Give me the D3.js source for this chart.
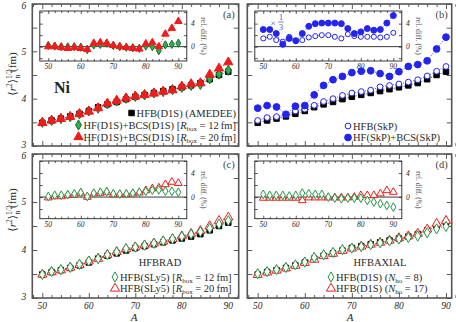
<!DOCTYPE html>
<html>
<head>
<meta charset="utf-8">
<script src="https://cdnjs.cloudflare.com/ajax/libs/d3/7.8.5/d3.min.js"></script>
<style>
body { margin:0; background:#fff; }
svg { font-family:"Liberation Serif","DejaVu Serif",serif; }
</style>
</head>
<body>
<div id="chart"></div>
<script>
// mass numbers of the Ni chain
var A = [50,52,54,56,58,60,62,64,66,68,70,72,74,76,78,80,82,84,86,88,90];

// (a) D1S
var hfbD1S  = [3.49,3.54,3.58,3.625,3.68,3.74,3.82,3.88,3.93,3.99,4.04,4.08,4.12,4.16,4.20,4.24,4.28,4.33,4.41,4.50,4.57];
var hfD1S12 = [3.50,3.54,3.58,3.62,3.68,3.74,3.80,3.89,3.95,4.01,4.05,4.08,4.12,4.15,4.19,4.24,4.28,4.30,4.42,4.52,4.60];
var hfD1S20 = [3.49,3.54,3.574,3.614,3.674,3.729,3.80,3.90,3.96,4.01,4.05,4.08,4.11,4.15,4.18,4.26,4.31,4.33,4.51,4.64,4.77];
var relD1S12 = [0.2,0.1,0,-0.05,0,-0.1,-0.5,0.3,0.4,0.6,0.2,0,-0.1,-0.2,-0.3,0.1,0,-0.7,0.3,0.4,0.6];
var relD1S20 = [0,0,-0.17,-0.3,-0.17,-0.3,-0.5,0.6,0.7,0.6,0.2,0,-0.15,-0.3,-0.4,0.5,0.7,0,2.2,3.2,4.4];

// (b) SkP
var hfbSkP = [3.54,3.60,3.62,3.656,3.74,3.78,3.86,3.94,4.00,4.07,4.12,4.15,4.18,4.25,4.28,4.31,4.35,4.40,4.48,4.58,4.68];
var hfSkP  = [3.80,3.855,3.825,3.67,3.84,3.855,4.08,4.28,4.40,4.47,4.55,4.58,4.59,4.53,4.47,4.57,4.68,4.72,4.80,5.05,5.30];
var relHfbSkP = [1.43,1.71,1.14,0.86,1.71,1.03,1.14,1.6,1.83,2.0,2.0,1.71,1.43,2.17,1.83,1.71,1.71,1.71,1.6,1.71,2.4];
var relHfSkP3 = [2.97,2.97,2.28,0.4,1.43,1.03,2.28,3.54,4.0,4.1,4.1,4.1,4.0,3.14,2.28,2.57,3.14,2.85,2.97,4.1,5.4];

// (c) HFBRAD SLy5
var slyR12 = [3.49,3.55,3.59,3.64,3.70,3.77,3.82,3.90,3.96,4.03,4.06,4.10,4.14,4.19,4.23,4.28,4.33,4.38,4.45,4.54,4.61];
var slyR20 = [3.49,3.54,3.58,3.635,3.69,3.765,3.82,3.90,3.96,4.02,4.06,4.10,4.14,4.18,4.23,4.29,4.34,4.40,4.50,4.61,4.68];
var relSly12 = [0.1,0.3,0.3,0.4,0.55,0.75,0.1,0.65,0.8,0.9,0.55,0.5,0.55,0.65,0.8,0.95,1.15,1.2,1.0,0.95,0.8];
var relSly20 = [-0.1,0.1,0.1,0.28,0.39,0.67,0,0.56,0.67,0.83,0.44,0.44,0.44,0.56,0.72,1.1,1.4,1.55,2.1,2.5,2.3];

// (d) HFBAXIAL D1S
var axN8  = [3.505,3.55,3.59,3.635,3.69,3.75,3.845,3.90,3.95,4.01,4.04,4.07,4.11,4.15,4.19,4.23,4.26,4.29,4.36,4.44,4.49];
var axN17 = [3.485,3.535,3.575,3.62,3.675,3.735,3.80,3.875,3.925,3.985,4.035,4.075,4.115,4.155,4.20,4.25,4.29,4.34,4.43,4.55,4.61];
var relN8  = [0.45,0.28,0.28,0.28,0.17,0.28,0.67,0.56,0.45,0.45,0,-0.17,-0.28,-0.17,-0.17,-0.17,-0.56,-0.83,-1.1,-1.4,-1.67];
var relN17 = [-0.15,-0.15,-0.15,-0.15,-0.15,-0.15,-0.56,-0.1,-0.1,-0.1,-0.1,-0.1,-0.1,-0.1,0,0.28,0.28,0.28,0.56,1.1,0.83];

// tick values
var xMajor = [50,60,70,80,90];
var xMinor = [48,52,54,56,58,62,64,66,68,72,74,76,78,82,84,86,88,92];
var yMajor = [3,4,5,6];
var yMinor = [3.5,4.5,5.5];
var insYLabels = [0,4];
var insYMinor = [-2,2,6];

var RED = "#f21a1a", GREEN = "#1f9a45", DGREEN = "#17702f", BLUE = "#2424f0", TXT = "#2a2a2a";

var svg = d3.select("#chart").append("svg")
    .attr("width",456).attr("height",322);

var panels = [
  {id:"a", left:32.3, top:4,   w:206.4, h:142, r0:42.3,  r1:228.3, insH:50,   insDom:[-2.5,6.2]},
  {id:"b", left:247.3,top:4,   w:204.4, h:142, r0:257.7, r1:446,   insH:50,   insDom:[-2.5,6.2]},
  {id:"c", left:32.3, top:154, w:206.4, h:144, r0:42.3,  r1:228.3, insH:57.7, insDom:[-3.6,6]},
  {id:"d", left:247.3,top:154, w:204.4, h:144, r0:257.7, r1:446,   insH:57.7, insDom:[-3.6,6]}
];

function inward(g, scale, orient, pos, vals, size) {
  var ax = orient(scale).tickValues(vals).tickSize(size).tickFormat("");
  var t = g.append("g").attr("transform", pos).call(ax);
  t.select(".domain").remove();
  t.selectAll("line").attr("stroke","#333").attr("stroke-width",0.8);
}

function rich(g, x, y, parts, size, anchor, fill) {
  var t = g.append("text").attr("x",x).attr("y",y).attr("font-size",size)
      .attr("text-anchor",anchor||"start").attr("fill",fill||TXT);
  parts.forEach(function(p){
    var s = t.append("tspan").text(p.t);
    if (p.i) s.attr("font-style","italic");
    if (p.fs) s.attr("font-size",p.fs);
    if (p.dy) s.attr("dy",p.dy);
    if (p.dx) s.attr("dx",p.dx);
  });
  return t;
}

function marker(g, type, x, y, size, fill, stroke) {
  g.append("path").attr("d", d3.symbol().type(type).size(size)())
    .attr("transform","translate("+x+","+y+")")
    .attr("fill",fill).attr("stroke",stroke).attr("stroke-width",1);
}

function series(g, x, y, vals, type, size, fill, stroke, dashColor) {
  var line = d3.line().x(function(d,i){ return x(A[i]); }).y(function(d){ return y(d); });
  g.append("path").datum(vals).attr("d",line).attr("fill","none")
    .attr("stroke",dashColor).attr("stroke-width",0.8).attr("stroke-dasharray","1,1.6");
  g.selectAll(null).data(vals).enter().append("path")
    .attr("d", d3.symbol().type(type).size(size)())
    .attr("transform",function(d,i){ return "translate("+x(A[i])+","+y(d)+")"; })
    .attr("fill",fill).attr("stroke",stroke).attr("stroke-width",1);
}

var P = {};
panels.forEach(function(p){
  var g = svg.append("g");
  var x = d3.scaleLinear().domain([50,90]).range([p.r0,p.r1]);
  var y = d3.scaleLinear().domain([3,6]).range([p.top+p.h,p.top]);
  // frame ticks
  inward(g,x,d3.axisBottom,"translate(0,"+(p.top+p.h)+")",xMajor,-5);
  inward(g,x,d3.axisBottom,"translate(0,"+(p.top+p.h)+")",xMinor,-3);
  inward(g,x,d3.axisTop,"translate(0,"+p.top+")",xMajor,-5);
  inward(g,x,d3.axisTop,"translate(0,"+p.top+")",xMinor,-3);
  inward(g,y,d3.axisLeft,"translate("+p.left+",0)",yMajor.concat(yMinor),-5);
  inward(g,y,d3.axisRight,"translate("+(p.left+p.w)+",0)",yMajor.concat(yMinor),-5);
  g.append("rect").attr("x",p.left).attr("y",p.top).attr("width",p.w).attr("height",p.h)
    .attr("fill","none").attr("stroke","#555").attr("stroke-width",1.6);

  // labels on outer axes
  if (p.id=="a" || p.id=="c") {
    g.selectAll(null).data(yMajor).enter().append("text")
      .attr("x",p.left-6).attr("y",function(d){ return y(d)+(d==3?1.5:(d==6?5:3.3)); })
      .attr("text-anchor","end").attr("font-size",9.5).attr("font-style","italic")
      .attr("fill",TXT).text(function(d){ return d; });
  }
  if (p.id=="c" || p.id=="d") {
    g.selectAll(null).data(xMajor).enter().append("text")
      .attr("x",function(d){ return x(d); }).attr("y",p.top+p.h+10.5)
      .attr("text-anchor","middle").attr("font-size",9.5).attr("font-style","italic")
      .attr("fill",TXT).text(function(d){ return d; });
  }
  g.append("text").attr("x",p.left+p.w-4).attr("y",p.top+14).attr("text-anchor","end")
    .attr("font-size",10.5).attr("fill","#444").text("("+p.id+")");

  // inset
  var il = p.left+7.5, iw = 147, it = p.top+7, ih = p.insH;
  var xi = d3.scaleLinear().domain([47.4,92.6]).range([il,il+iw]);
  var yi = d3.scaleLinear().domain(p.insDom).range([it+ih,it]);
  inward(g,xi,d3.axisBottom,"translate(0,"+(it+ih)+")",xMajor,-3);
  inward(g,xi,d3.axisBottom,"translate(0,"+(it+ih)+")",xMinor.slice(1,-1),-2);
  inward(g,xi,d3.axisTop,"translate(0,"+it+")",xMajor,-3);
  inward(g,xi,d3.axisTop,"translate(0,"+it+")",xMinor.slice(1,-1),-2);
  inward(g,yi,d3.axisLeft,"translate("+il+",0)",insYLabels.concat(insYMinor),-3);
  inward(g,yi,d3.axisRight,"translate("+(il+iw)+",0)",insYLabels.concat(insYMinor),-3);
  g.append("rect").attr("x",il).attr("y",it).attr("width",iw).attr("height",ih)
    .attr("fill","none").attr("stroke","#222").attr("stroke-width",0.9);
  g.append("line").attr("x1",il).attr("x2",il+iw).attr("y1",yi(0)).attr("y2",yi(0))
    .attr("stroke","#222").attr("stroke-width",0.9);
  g.selectAll(null).data(xMajor).enter().append("text")
    .attr("x",function(d){ return xi(d); }).attr("y",it+ih+8)
    .attr("text-anchor","middle").attr("font-size",7.5).attr("font-style","italic")
    .attr("fill",TXT).text(function(d){ return d; });
  g.selectAll(null).data(insYLabels).enter().append("text")
    .attr("x",il+iw+6).attr("y",function(d){ return yi(d)+2.5; })
    .attr("text-anchor","middle").attr("font-size",7.5).attr("font-style","italic")
    .attr("fill",TXT).text(function(d){ return d; });
  var lx = il+iw+14, ly = it+ih/2;
  g.append("text").attr("transform","translate("+lx+","+ly+") rotate(90)")
    .attr("text-anchor","middle").attr("font-size",7.5).attr("fill","#555")
    .text("rel. diff. (%)");

  P[p.id] = {g:g, x:x, y:y, xi:xi, yi:yi};
});

// ---- panel (a)
var pa = P.a;
series(pa.g,pa.x,pa.y,hfbD1S,d3.symbolSquare,30,"#000","#000","#000");
series(pa.g,pa.x,pa.y,hfD1S12,d3.symbolDiamond,30,"#2fae55",DGREEN,GREEN);
series(pa.g,pa.x,pa.y,hfD1S20,d3.symbolTriangle,36,RED,RED,RED);
series(pa.g,pa.xi,pa.yi,relD1S12,d3.symbolDiamond,20,"#2fae55",DGREEN,GREEN);
series(pa.g,pa.xi,pa.yi,relD1S20,d3.symbolTriangle,24,RED,RED,RED);
pa.g.append("text").attr("x",54).attr("y",93).attr("font-size",16).attr("font-weight","bold")
  .attr("fill","#222").text("Ni");

function legendRight(g, xr, yc, parts, type, fill, stroke, size) {
  var t = rich(g, xr, yc+3.6, parts, 10.5, "end");
  var bb = t.node().getBBox();
  marker(g, type, bb.x-5, yc, size, fill, stroke);
}
function legendLeft(g, xl, yc, parts, type, fill, stroke, size) {
  rich(g, xl, yc+3.6, parts, 10.5, "start");
  marker(g, type, xl-5, yc, size, fill, stroke);
}
function rbox(pre, n) {
  return [{t:pre+" ["},{t:"R",i:1},{t:"box",fs:7,dy:2},{t:" = "+n+"\u2009fm]",fs:10.5,dy:-2}];
}
legendRight(pa.g,236,113,[{t:"HFB(D1S) (AMEDEE)"}],d3.symbolSquare,"#000","#000",30);
legendRight(pa.g,236,125,rbox("HF(D1S)+BCS(D1S)",12),d3.symbolDiamond,"#2fae55",DGREEN,30);
legendRight(pa.g,236,137,rbox("HF(D1S)+BCS(D1S)",20),d3.symbolTriangle,RED,RED,36);

// ---- panel (b)
var pb = P.b;
series(pb.g,pb.x,pb.y,hfbD1S,d3.symbolSquare,30,"#000","#000","#000");
series(pb.g,pb.x,pb.y,hfbSkP,d3.symbolCircle,26,"#fff",BLUE,BLUE);
series(pb.g,pb.x,pb.y,hfSkP,d3.symbolCircle,36,BLUE,BLUE,BLUE);
series(pb.g,pb.xi,pb.yi,relHfbSkP,d3.symbolCircle,20,"#fff",BLUE,BLUE);
series(pb.g,pb.xi,pb.yi,relHfSkP3,d3.symbolCircle,28,BLUE,BLUE,BLUE);
pb.g.append("text").attr("x",273).attr("y",25.5).attr("font-size",9).attr("text-anchor","middle")
  .attr("fill","#4444dd").text("\u00d7");
pb.g.append("text").attr("x",281).attr("y",20).attr("font-size",8).attr("text-anchor","middle")
  .attr("fill","#4444dd").text("1");
pb.g.append("line").attr("x1",278.3).attr("x2",283.7).attr("y1",22).attr("y2",22)
  .attr("stroke","#4444dd").attr("stroke-width",0.7);
pb.g.append("text").attr("x",281).attr("y",29.5).attr("font-size",8).attr("text-anchor","middle")
  .attr("fill","#4444dd").text("3");
legendLeft(pb.g,353,126,[{t:"HFB(SkP)"}],d3.symbolCircle,"#fff",BLUE,26);
legendLeft(pb.g,353,137.5,[{t:"HF(SkP)+BCS(SkP)"}],d3.symbolCircle,BLUE,BLUE,36);

// ---- panel (c)
var pc = P.c;
series(pc.g,pc.x,pc.y,hfbD1S,d3.symbolSquare,30,"#000","#000","#000");
series(pc.g,pc.x,pc.y,slyR20,d3.symbolTriangle,36,"#fff",RED,RED);
series(pc.g,pc.x,pc.y,slyR12,d3.symbolDiamond,30,"#fff",GREEN,GREEN);
series(pc.g,pc.xi,pc.yi,relSly20,d3.symbolTriangle,26,"#fff",RED,RED);
series(pc.g,pc.xi,pc.yi,relSly12,d3.symbolDiamond,22,"#fff",GREEN,GREEN);
pc.g.append("text").attr("x",160).attr("y",266).attr("font-size",10.5).attr("text-anchor","middle")
  .attr("fill",TXT).text("HFBRAD");
legendLeft(pc.g,120,277,rbox("HFB(SLy5)",12),d3.symbolDiamond,"#fff",GREEN,30);
legendLeft(pc.g,120,288.5,rbox("HFB(SLy5)",20),d3.symbolTriangle,"#fff",RED,36);

// ---- panel (d)
var pd = P.d;
series(pd.g,pd.x,pd.y,hfbD1S,d3.symbolSquare,30,"#000","#000","#000");
series(pd.g,pd.x,pd.y,axN17,d3.symbolTriangle,36,"#fff",RED,RED);
series(pd.g,pd.x,pd.y,axN8,d3.symbolDiamond,30,"#fff",GREEN,GREEN);
series(pd.g,pd.xi,pd.yi,relN17,d3.symbolTriangle,26,"#fff",RED,RED);
series(pd.g,pd.xi,pd.yi,relN8,d3.symbolDiamond,22,"#fff",GREEN,GREEN);
pd.g.append("text").attr("x",380).attr("y",266).attr("font-size",10.5).attr("text-anchor","middle")
  .attr("fill",TXT).text("HFBAXIAL");
function nho(n) {
  return [{t:"HFB(D1S) ("},{t:"N",i:1},{t:"ho",fs:7,dy:2},{t:" = "+n+")",fs:10.5,dy:-2}];
}
legendLeft(pd.g,336,277,nho(8),d3.symbolDiamond,"#fff",GREEN,30);
legendLeft(pd.g,336,288.5,nho(17),d3.symbolTriangle,"#fff",RED,36);

// ---- axis titles
function ytitle(cy) {
  var t = svg.append("text").attr("transform","translate(16,"+cy+") rotate(-90)")
    .attr("text-anchor","middle").attr("font-size",11).attr("fill",TXT);
  t.append("tspan").text("\u27e8");
  t.append("tspan").text("r").attr("font-style","italic");
  t.append("tspan").text("2").attr("font-size",7.5).attr("dy",-4);
  t.append("tspan").text("\u27e9").attr("font-size",11).attr("dy",4);
  t.append("tspan").text("1/2").attr("font-size",7.5).attr("dy",-4);
  t.append("tspan").text("n").attr("font-size",7.5).attr("dx",-9).attr("dy",7.5);
  t.append("tspan").text(" (fm)").attr("font-size",11).attr("dy",-3.5);
}
ytitle(74);
ytitle(210);
svg.append("text").attr("x",134).attr("y",321).attr("font-size",11).attr("font-style","italic")
  .attr("text-anchor","middle").attr("fill",TXT).text("A");
svg.append("text").attr("x",350).attr("y",321).attr("font-size",11).attr("font-style","italic")
  .attr("text-anchor","middle").attr("fill",TXT).text("A");
</script>
</body>
</html>
